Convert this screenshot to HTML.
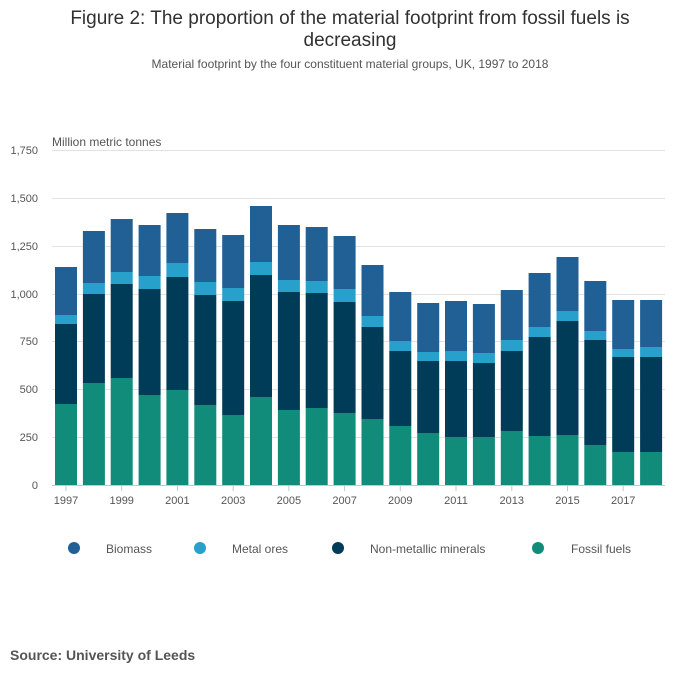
<!DOCTYPE html>
<html><head><meta charset="utf-8"><style>
body{margin:0;background:#fff;}
svg text{font-family:"Liberation Sans",sans-serif;}
</style></head><body>
<svg width="700" height="682" xmlns="http://www.w3.org/2000/svg">
<text x="350" y="24" font-size="19" fill="#323132" text-anchor="middle">Figure 2: The proportion of the material footprint from fossil fuels is</text>
<text x="350" y="46" font-size="19" fill="#323132" text-anchor="middle">decreasing</text>
<text x="350" y="68" font-size="12" fill="#555" text-anchor="middle">Material footprint by the four constituent material groups, UK, 1997 to 2018</text>
<g stroke="#e2e2e2" stroke-width="1">
<line x1="52" x2="665" y1="150.5" y2="150.5"/>
<line x1="52" x2="665" y1="198.5" y2="198.5"/>
<line x1="52" x2="665" y1="246.5" y2="246.5"/>
<line x1="52" x2="665" y1="294.5" y2="294.5"/>
<line x1="52" x2="665" y1="341.5" y2="341.5"/>
<line x1="52" x2="665" y1="389.5" y2="389.5"/>
<line x1="52" x2="665" y1="437.5" y2="437.5"/>
</g>
<g font-size="11" fill="#555" text-anchor="end">
<text x="38" y="154">1,750</text><text x="38" y="202">1,500</text><text x="38" y="250">1,250</text>
<text x="38" y="298">1,000</text><text x="38" y="345">750</text><text x="38" y="393">500</text>
<text x="38" y="441">250</text><text x="38" y="489">0</text>
</g>
<text x="52" y="146" font-size="12" fill="#555">Million metric tonnes</text>
<g>
<g transform="translate(55.0,0)"><rect y="267" width="22" height="48" fill="#206095"/><rect y="315" width="22" height="9" fill="#27a0cc"/><rect y="324" width="22" height="80" fill="#003c57"/><rect y="404" width="22" height="81" fill="#118c7b"/></g>
<g transform="translate(82.9,0)"><rect y="231" width="22" height="52" fill="#206095"/><rect y="283" width="22" height="11" fill="#27a0cc"/><rect y="294" width="22" height="89" fill="#003c57"/><rect y="383" width="22" height="102" fill="#118c7b"/></g>
<g transform="translate(110.7,0)"><rect y="219" width="22" height="53" fill="#206095"/><rect y="272" width="22" height="12" fill="#27a0cc"/><rect y="284" width="22" height="94" fill="#003c57"/><rect y="378" width="22" height="107" fill="#118c7b"/></g>
<g transform="translate(138.6,0)"><rect y="225" width="22" height="51" fill="#206095"/><rect y="276" width="22" height="13" fill="#27a0cc"/><rect y="289" width="22" height="106" fill="#003c57"/><rect y="395" width="22" height="90" fill="#118c7b"/></g>
<g transform="translate(166.4,0)"><rect y="213" width="22" height="50" fill="#206095"/><rect y="263" width="22" height="14" fill="#27a0cc"/><rect y="277" width="22" height="113" fill="#003c57"/><rect y="390" width="22" height="95" fill="#118c7b"/></g>
<g transform="translate(194.3,0)"><rect y="229" width="22" height="53" fill="#206095"/><rect y="282" width="22" height="13" fill="#27a0cc"/><rect y="295" width="22" height="110" fill="#003c57"/><rect y="405" width="22" height="80" fill="#118c7b"/></g>
<g transform="translate(222.2,0)"><rect y="235" width="22" height="53" fill="#206095"/><rect y="288" width="22" height="13" fill="#27a0cc"/><rect y="301" width="22" height="114" fill="#003c57"/><rect y="415" width="22" height="70" fill="#118c7b"/></g>
<g transform="translate(250.0,0)"><rect y="206" width="22" height="56" fill="#206095"/><rect y="262" width="22" height="13" fill="#27a0cc"/><rect y="275" width="22" height="122" fill="#003c57"/><rect y="397" width="22" height="88" fill="#118c7b"/></g>
<g transform="translate(277.9,0)"><rect y="225" width="22" height="55" fill="#206095"/><rect y="280" width="22" height="12" fill="#27a0cc"/><rect y="292" width="22" height="118" fill="#003c57"/><rect y="410" width="22" height="75" fill="#118c7b"/></g>
<g transform="translate(305.7,0)"><rect y="227" width="22" height="54" fill="#206095"/><rect y="281" width="22" height="12" fill="#27a0cc"/><rect y="293" width="22" height="115" fill="#003c57"/><rect y="408" width="22" height="77" fill="#118c7b"/></g>
<g transform="translate(333.6,0)"><rect y="236" width="22" height="53" fill="#206095"/><rect y="289" width="22" height="13" fill="#27a0cc"/><rect y="302" width="22" height="111" fill="#003c57"/><rect y="413" width="22" height="72" fill="#118c7b"/></g>
<g transform="translate(361.5,0)"><rect y="265" width="22" height="51" fill="#206095"/><rect y="316" width="22" height="11" fill="#27a0cc"/><rect y="327" width="22" height="92" fill="#003c57"/><rect y="419" width="22" height="66" fill="#118c7b"/></g>
<g transform="translate(389.3,0)"><rect y="292" width="22" height="49" fill="#206095"/><rect y="341" width="22" height="10" fill="#27a0cc"/><rect y="351" width="22" height="75" fill="#003c57"/><rect y="426" width="22" height="59" fill="#118c7b"/></g>
<g transform="translate(417.2,0)"><rect y="303" width="22" height="49" fill="#206095"/><rect y="352" width="22" height="9" fill="#27a0cc"/><rect y="361" width="22" height="72" fill="#003c57"/><rect y="433" width="22" height="52" fill="#118c7b"/></g>
<g transform="translate(445.0,0)"><rect y="301" width="22" height="50" fill="#206095"/><rect y="351" width="22" height="10" fill="#27a0cc"/><rect y="361" width="22" height="76" fill="#003c57"/><rect y="437" width="22" height="48" fill="#118c7b"/></g>
<g transform="translate(472.9,0)"><rect y="304" width="22" height="49" fill="#206095"/><rect y="353" width="22" height="10" fill="#27a0cc"/><rect y="363" width="22" height="74" fill="#003c57"/><rect y="437" width="22" height="48" fill="#118c7b"/></g>
<g transform="translate(500.8,0)"><rect y="290" width="22" height="50" fill="#206095"/><rect y="340" width="22" height="11" fill="#27a0cc"/><rect y="351" width="22" height="80" fill="#003c57"/><rect y="431" width="22" height="54" fill="#118c7b"/></g>
<g transform="translate(528.6,0)"><rect y="273" width="22" height="54" fill="#206095"/><rect y="327" width="22" height="10" fill="#27a0cc"/><rect y="337" width="22" height="99" fill="#003c57"/><rect y="436" width="22" height="49" fill="#118c7b"/></g>
<g transform="translate(556.5,0)"><rect y="257" width="22" height="54" fill="#206095"/><rect y="311" width="22" height="10" fill="#27a0cc"/><rect y="321" width="22" height="114" fill="#003c57"/><rect y="435" width="22" height="50" fill="#118c7b"/></g>
<g transform="translate(584.3,0)"><rect y="281" width="22" height="50" fill="#206095"/><rect y="331" width="22" height="9" fill="#27a0cc"/><rect y="340" width="22" height="105" fill="#003c57"/><rect y="445" width="22" height="40" fill="#118c7b"/></g>
<g transform="translate(612.2,0)"><rect y="300" width="22" height="49" fill="#206095"/><rect y="349" width="22" height="8" fill="#27a0cc"/><rect y="357" width="22" height="95" fill="#003c57"/><rect y="452" width="22" height="33" fill="#118c7b"/></g>
<g transform="translate(640.1,0)"><rect y="300" width="22" height="47" fill="#206095"/><rect y="347" width="22" height="10" fill="#27a0cc"/><rect y="357" width="22" height="95" fill="#003c57"/><rect y="452" width="22" height="33" fill="#118c7b"/></g>
</g>
<line x1="52" x2="665" y1="485.5" y2="485.5" stroke="#bec8d9" stroke-width="1"/>
<g stroke="#bec8d9">
<line x1="66" x2="66" y1="486" y2="491"/><line x1="121.7" x2="121.7" y1="486" y2="491"/><line x1="177.4" x2="177.4" y1="486" y2="491"/><line x1="233.2" x2="233.2" y1="486" y2="491"/><line x1="288.9" x2="288.9" y1="486" y2="491"/><line x1="344.6" x2="344.6" y1="486" y2="491"/><line x1="400.3" x2="400.3" y1="486" y2="491"/><line x1="456" x2="456" y1="486" y2="491"/><line x1="511.8" x2="511.8" y1="486" y2="491"/><line x1="567.5" x2="567.5" y1="486" y2="491"/><line x1="623.2" x2="623.2" y1="486" y2="491"/>
</g>
<g font-size="11" fill="#555" text-anchor="middle">
<text x="66" y="504">1997</text><text x="121.7" y="504">1999</text><text x="177.4" y="504">2001</text><text x="233.2" y="504">2003</text><text x="288.9" y="504">2005</text><text x="344.6" y="504">2007</text><text x="400.3" y="504">2009</text><text x="456" y="504">2011</text><text x="511.8" y="504">2013</text><text x="567.5" y="504">2015</text><text x="623.2" y="504">2017</text>
</g>
<g font-size="12" fill="#555">
<circle cx="74" cy="548" r="6" fill="#206095"/><text x="106" y="553">Biomass</text>
<circle cx="200" cy="548" r="6" fill="#27a0cc"/><text x="232" y="553">Metal ores</text>
<circle cx="338" cy="548" r="6" fill="#003c57"/><text x="370" y="553">Non-metallic minerals</text>
<circle cx="538" cy="548" r="6" fill="#118c7b"/><text x="571" y="553">Fossil fuels</text>
</g>
<text x="10" y="660" font-size="14" font-weight="bold" fill="#555">Source: University of Leeds</text>
</svg>
</body></html>
